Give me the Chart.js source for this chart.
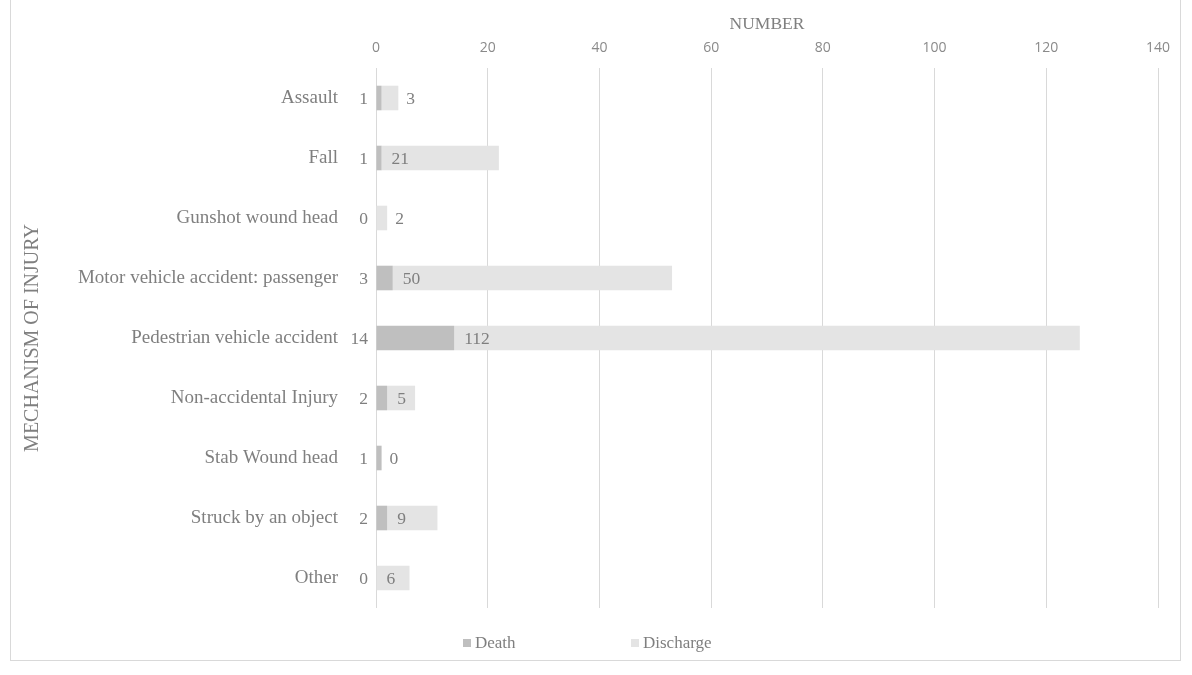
<!DOCTYPE html>
<html>
<head>
<meta charset="utf-8">
<script src="https://cdn.jsdelivr.net/npm/chart.js@4.4.1/dist/chart.umd.min.js"></script>
<style>
  html, body { margin: 0; padding: 0; background: #ffffff; }
  #wrap { position: relative; width: 1192px; height: 675px; overflow: hidden; }
  #frame { position: absolute; left: 10px; top: -2px; width: 1171px; height: 663px;
           border: 1px solid #d9d9d9; box-sizing: border-box; pointer-events: none; }
  canvas { position: absolute; left: 0; top: 0; }
</style>
</head>
<body>
<div id="wrap">
  <canvas id="chart" width="1192" height="675"></canvas>
  <div id="frame"></div>
</div>
<script>
// Mechanism of injury by outcome
const categories = [
  'Assault',
  'Fall',
  'Gunshot wound head',
  'Motor vehicle accident: passenger',
  'Pedestrian vehicle accident',
  'Non-accidental Injury',
  'Stab Wound head',
  'Struck by an object',
  'Other'
];
const deaths = [1, 1, 0, 3, 14, 2, 1, 2, 0];
const discharges = [3, 21, 2, 50, 112, 5, 0, 9, 6];
const seriesNames = ['Death', 'Discharge'];
const xTicks = [0, 20, 40, 60, 80, 100, 120, 140];

const SERIF = '"Liberation Serif", "Times New Roman", serif';
const SANS = '"Open Sans", "Liberation Sans", sans-serif';
const TEXT = '#7f7f7f';
const GRID = '#d9d9d9';
const COLORS = ['#bfbfbf', '#e4e4e4'];

// Value labels: deaths sit left of the axis, discharges at the base of their segment
const valueLabels = {
  id: 'valueLabels',
  afterDatasetsDraw(chart) {
    const ctx = chart.ctx;
    ctx.save();
    ctx.font = '17.5px ' + SERIF;
    ctx.fillStyle = TEXT;
    ctx.textBaseline = 'middle';
    const left = chart.chartArea.left;
    chart.getDatasetMeta(0).data.forEach((bar, i) => {
      ctx.textAlign = 'right';
      ctx.fillText(String(chart.data.datasets[0].data[i]), left - 8, bar.y + 1);
    });
    chart.getDatasetMeta(1).data.forEach((bar, i) => {
      const txt = String(chart.data.datasets[1].data[i]);
      const w = ctx.measureText(txt).width;
      const start = Math.min(bar.base, bar.x);
      const end = Math.max(bar.base, bar.x);
      const x = (end - start >= w + 18) ? start + 10 : end + 8;
      ctx.textAlign = 'left';
      ctx.fillText(txt, x, bar.y + 1);
    });
    ctx.restore();
  }
};

// Legend row beneath the plot
const bottomLegend = {
  id: 'bottomLegend',
  afterDraw(chart) {
    const ctx = chart.ctx;
    const y = 643;
    const items = [{ x: 463 }, { x: 631 }];
    ctx.save();
    ctx.font = '17px ' + SERIF;
    ctx.textBaseline = 'middle';
    ctx.textAlign = 'left';
    chart.data.datasets.forEach((ds, i) => {
      ctx.fillStyle = ds.backgroundColor;
      ctx.fillRect(items[i].x, y - 4, 8, 8);
      ctx.fillStyle = TEXT;
      ctx.fillText(ds.label, items[i].x + 12, y + 1);
    });
    ctx.restore();
  }
};

new Chart(document.getElementById('chart'), {
  type: 'bar',
  data: {
    labels: categories,
    datasets: [
      { label: seriesNames[0], data: deaths, backgroundColor: COLORS[0] },
      { label: seriesNames[1], data: discharges, backgroundColor: COLORS[1] }
    ]
  },
  options: {
    indexAxis: 'y',
    responsive: false,
    animation: false,
    devicePixelRatio: 1,
    layout: { padding: { left: 0, right: 34, top: 0, bottom: 67 } },
    datasets: { bar: { categoryPercentage: 0.41, barPercentage: 1.0, borderWidth: 0 } },
    plugins: {
      legend: { display: false },
      tooltip: { enabled: false }
    },
    scales: {
      x: {
        position: 'top',
        stacked: true,
        min: 0,
        max: 140,
        afterBuildTicks(scale) { scale.ticks = xTicks.map(v => ({ value: v })); },
        afterFit(scale) { scale.height = 68; },
        grid: { color: GRID, lineWidth: 1, drawTicks: false },
        border: { display: false },
        ticks: { color: '#8a8a8a', font: { family: SANS, size: 14 }, padding: 12 },
        title: {
          display: true,
          text: 'NUMBER',
          color: TEXT,
          font: { family: SERIF, size: 17.5 },
          padding: { top: 14, bottom: 0 }
        }
      },
      y: {
        stacked: true,
        afterFit(scale) { scale.width = 376; },
        grid: { display: false },
        border: { display: false },
        ticks: { color: TEXT, font: { family: SERIF, size: 19 }, padding: 30 },
        title: {
          display: true,
          text: 'MECHANISM OF INJURY',
          color: TEXT,
          font: { family: SERIF, size: 20 },
          padding: { top: 21, bottom: 0 }
        }
      }
    }
  },
  plugins: [valueLabels, bottomLegend]
});
</script>
</body>
</html>
